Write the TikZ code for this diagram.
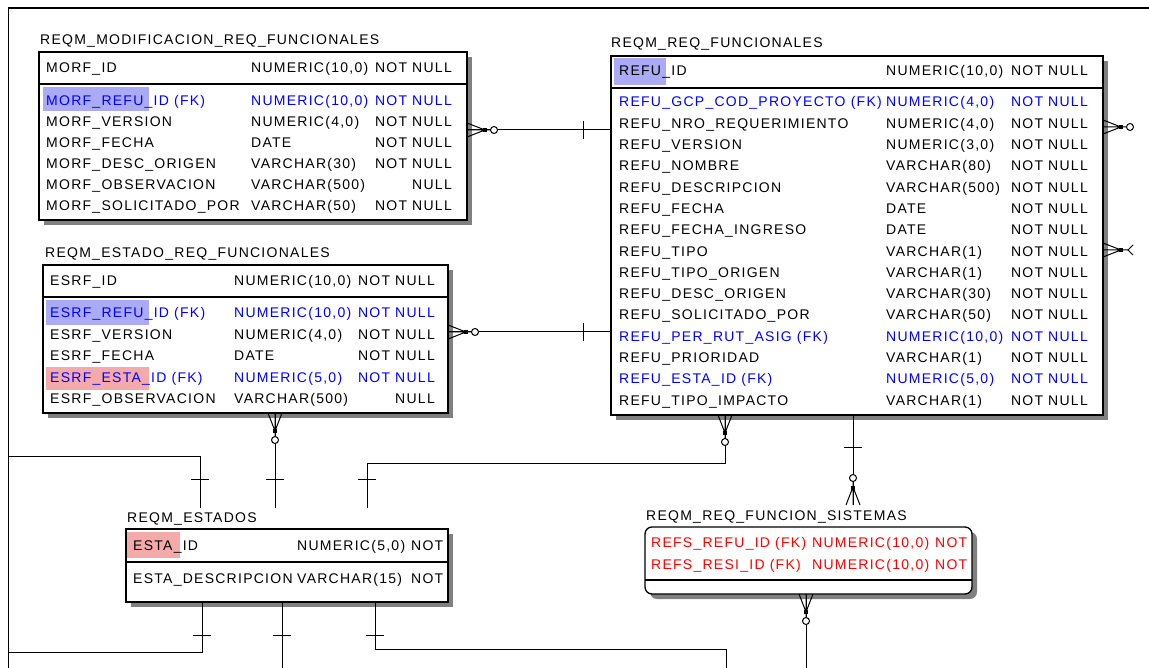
\documentclass[tikz,border=0pt]{standalone}
\usepackage{fontspec}
\setmainfont{Liberation Sans}[LetterSpace=9]
\usetikzlibrary{shadows}
\definecolor{fkblue}{RGB}{0,0,255}
\definecolor{fkred}{RGB}{255,0,0}
\definecolor{hlblue}{RGB}{170,170,245}
\definecolor{hlpink}{RGB}{245,170,170}
\definecolor{shgray}{RGB}{128,128,128}
\newcommand\tfont{\fontsize{14}{16}\selectfont}
\newcommand\setcols[4]{\def\colA{#1}\def\colB{#2}\def\colC{#3}\def\colCanch{#4}}
\newcommand\erow[6]{%
  \node[txt,text=#2] (#1n) at (\colA,#3+5) {#4};
  \node[txt,text=#2] (#1t) at (\colB,#3+5) {#5};
  \node[txt,text=#2,anchor=\colCanch] (#1k) at (\colC,#3+5) {#6};}
\begin{document}
\begin{tikzpicture}[x=1pt,y=-1pt,
  ent/.style={draw=black,line width=1.3pt,fill=white,inner sep=0pt,outer sep=0pt,anchor=north west,
    drop shadow={shadow xshift=5pt,shadow yshift=-5pt,fill=shgray,opacity=1}},
  sepline/.style={line width=1.2pt},
  txt/.style={anchor=base west,inner sep=0pt,font=\tfont},
  ttl/.style={anchor=base west,inner sep=0pt,font=\tfont},
  conn/.style={line width=1pt,black},
  crowopt/.pic={
    \draw[conn] (0,-7) -- (18,0) -- (0,7) (0,0) -- (23.5,0);
    \fill (15.5,-2) rectangle (19.5,2);
    \draw[conn,fill=white] (27,0) circle[radius=3.5pt];
  },
  crowlt/.pic={
    \draw[conn] (0,-7) -- (18,0) -- (0,7) (0,0) -- (25,0);
    \fill (15.5,-2) rectangle (19.5,2);
    \draw[conn] (30,-5) -- (25,0) -- (30,5);
  },
  tick/.pic={\draw[conn] (0,-9) -- (0,9);}
]
\useasboundingbox (0,0) rectangle (1149,668);
% frame
\draw[line width=2pt] (8,8) -- (1149,8);
\draw[line width=1pt] (8,8) -- (8,668);

% ---------- T1
\node[ttl] (t1l) at (40,45) {REQM\_MODIFICACION\_REQ\_FUNCIONALES};
\node[ent,minimum width=428pt,minimum height=168pt] (t1) at (39,52) {};
\draw[sepline] (t1.west |- 0,84) -- (t1.east |- 0,84);
\fill[hlblue] (43,87) rectangle (149,111);
\setcols{46}{251}{452}{base east}
\erow{a0}{black}{68}{MORF\_ID}{NUMERIC(10,0)}{NOT NULL}
\erow{a1}{fkblue}{101}{MORF\_REFU\_ID (FK)}{NUMERIC(10,0)}{NOT NULL}
\erow{a2}{black}{122}{MORF\_VERSION}{NUMERIC(4,0)}{NOT NULL}
\erow{a3}{black}{143}{MORF\_FECHA}{DATE}{NOT NULL}
\erow{a4}{black}{164}{MORF\_DESC\_ORIGEN}{VARCHAR(30)}{NOT NULL}
\erow{a5}{black}{185}{MORF\_OBSERVACION}{VARCHAR(500)}{NULL}
\erow{a6}{black}{206}{MORF\_SOLICITADO\_POR}{VARCHAR(50)}{NOT NULL}

% ---------- T2
\node[ttl] (t2l) at (45,258) {REQM\_ESTADO\_REQ\_FUNCIONALES};
\node[ent,minimum width=405pt,minimum height=148pt] (t2) at (43,265) {};
\draw[sepline] (t2.west |- 0,297) -- (t2.east |- 0,297);
\fill[hlblue] (46,300) rectangle (149,325);
\fill[hlpink] (46,367) rectangle (149,390);
\setcols{50}{234}{435}{base east}
\erow{b0}{black}{281}{ESRF\_ID}{NUMERIC(10,0)}{NOT NULL}
\erow{b1}{fkblue}{313}{ESRF\_REFU\_ID (FK)}{NUMERIC(10,0)}{NOT NULL}
\erow{b2}{black}{335}{ESRF\_VERSION}{NUMERIC(4,0)}{NOT NULL}
\erow{b3}{black}{356}{ESRF\_FECHA}{DATE}{NOT NULL}
\erow{b4}{fkblue}{377}{ESRF\_ESTA\_ID (FK)}{NUMERIC(5,0)}{NOT NULL}
\erow{b5}{black}{398}{ESRF\_OBSERVACION}{VARCHAR(500)}{NULL}

% ---------- T3
\node[ttl] (t3l) at (611,48) {REQM\_REQ\_FUNCIONALES};
\node[ent,minimum width=492pt,minimum height=359pt] (t3) at (611,56) {};
\draw[sepline] (t3.west |- 0,88) -- (t3.east |- 0,88);
\fill[hlblue] (614,58) rectangle (666,85);
\setcols{619}{886}{1088}{base east}
\erow{c0}{black}{71}{REFU\_ID}{NUMERIC(10,0)}{NOT NULL}
\erow{c1}{fkblue}{102}{REFU\_GCP\_COD\_PROYECTO (FK)}{NUMERIC(4,0)}{NOT NULL}
\erow{c2}{black}{123.3}{REFU\_NRO\_REQUERIMIENTO}{NUMERIC(4,0)}{NOT NULL}
\erow{c3}{black}{144.6}{REFU\_VERSION}{NUMERIC(3,0)}{NOT NULL}
\erow{c4}{black}{165.9}{REFU\_NOMBRE}{VARCHAR(80)}{NOT NULL}
\erow{c5}{black}{187.2}{REFU\_DESCRIPCION}{VARCHAR(500)}{NOT NULL}
\erow{c6}{black}{208.5}{REFU\_FECHA}{DATE}{NOT NULL}
\erow{c7}{black}{229.8}{REFU\_FECHA\_INGRESO}{DATE}{NOT NULL}
\erow{c8}{black}{251.1}{REFU\_TIPO}{VARCHAR(1)}{NOT NULL}
\erow{c9}{black}{272.4}{REFU\_TIPO\_ORIGEN}{VARCHAR(1)}{NOT NULL}
\erow{c10}{black}{293.7}{REFU\_DESC\_ORIGEN}{VARCHAR(30)}{NOT NULL}
\erow{c11}{black}{315}{REFU\_SOLICITADO\_POR}{VARCHAR(50)}{NOT NULL}
\erow{c12}{fkblue}{336.3}{REFU\_PER\_RUT\_ASIG (FK)}{NUMERIC(10,0)}{NOT NULL}
\erow{c13}{black}{357.6}{REFU\_PRIORIDAD}{VARCHAR(1)}{NOT NULL}
\erow{c14}{fkblue}{378.9}{REFU\_ESTA\_ID (FK)}{NUMERIC(5,0)}{NOT NULL}
\erow{c15}{black}{400.2}{REFU\_TIPO\_IMPACTO}{VARCHAR(1)}{NOT NULL}

% ---------- T4
\node[ttl] (t4l) at (127,522) {REQM\_ESTADOS};
\node[ent,minimum width=322pt,minimum height=73pt] (t4) at (126,529) {};
\draw[sepline] (t4.west |- 0,562) -- (t4.east |- 0,562);
\fill[hlpink] (127,532) rectangle (180,558);
\setcols{133}{297}{411}{base west}
\erow{d0}{black}{545}{ESTA\_ID}{NUMERIC(5,0)}{NOT}
\erow{d1}{black}{578}{ESTA\_DESCRIPCION}{VARCHAR(15)}{NOT}

% ---------- T5
\node[ttl] (t5l) at (646,520) {REQM\_REQ\_FUNCION\_SISTEMAS};
\node[ent,rounded corners=7pt,minimum width=327pt,minimum height=67pt] (t5) at (645,527) {};
\draw[sepline] (t5.west |- 0,580) -- (t5.east |- 0,580);
\setcols{651}{812}{935}{base west}
\erow{e0}{fkred}{542}{REFS\_REFU\_ID (FK)}{NUMERIC(10,0)}{NOT}
\erow{e1}{fkred}{564}{REFS\_RESI\_ID (FK)}{NUMERIC(10,0)}{NOT}

% ---------- connectors
\coordinate (k1s) at (t1.east |- 0,130);
\coordinate (k1e) at (t3.west |- 0,130);
\draw[conn] (k1s) -- (k1e);
\pic at (k1s) {crowopt};
\pic at (583,130) {tick};

\coordinate (k2s) at (t2.east |- 0,332);
\coordinate (k2e) at (t3.west |- 0,332);
\draw[conn] (k2s) -- (k2e);
\pic at (k2s) {crowopt};
\pic at (583,332) {tick};

\coordinate (k3s) at (t3.east |- 0,127);
\pic at (k3s) {crowopt};
\coordinate (k3b) at (t3.east |- 0,250);
\pic at (k3b) {crowlt};

\coordinate (k4s) at (275,0 |- t2.south);
\coordinate (k4e) at (275,508);
\draw[conn] (k4s) -- (k4e);
\pic[rotate=-90] at (k4s) {crowopt};
\pic[rotate=90] at (275,479) {tick};

\coordinate (k5s) at (8,456);
\coordinate (k5e) at (200,508);
\draw[conn] (k5s) -| (k5e);
\pic[rotate=90] at (200,479) {tick};

\coordinate (k6s) at (725,0 |- t3.south);
\coordinate (k6e) at (367,508);
\draw[conn] (k6s) -- (725,463) -| (k6e);
\pic[rotate=-90] at (k6s) {crowopt};
\pic[rotate=90] at (367,479) {tick};

\coordinate (k7s) at (853,0 |- t3.south);
\coordinate (k7e) at (853,505);
\draw[conn] (k7s) -- (k7e);
\pic[rotate=90] at (k7e) {crowopt};
\pic[rotate=90] at (853,447) {tick};

\coordinate (k8s) at (806,0 |- t5.south);
\coordinate (k8e) at (806,668);
\draw[conn] (k8s) -- (k8e);
\pic[rotate=-90] at (k8s) {crowopt};

\coordinate (k9s) at (375,0 |- t4.south);
\coordinate (k9e) at (726,668);
\draw[conn] (k9s) |- (726,649) -- (k9e);
\pic[rotate=90] at (375,635) {tick};

\coordinate (k10s) at (282,0 |- t4.south);
\coordinate (k10e) at (282,668);
\draw[conn] (k10s) -- (k10e);
\pic[rotate=90] at (282,635) {tick};

\coordinate (k11s) at (202,0 |- t4.south);
\coordinate (k11e) at (8,652);
\draw[conn] (k11s) |- (k11e);
\pic[rotate=90] at (202,635) {tick};
\end{tikzpicture}
\end{document}
